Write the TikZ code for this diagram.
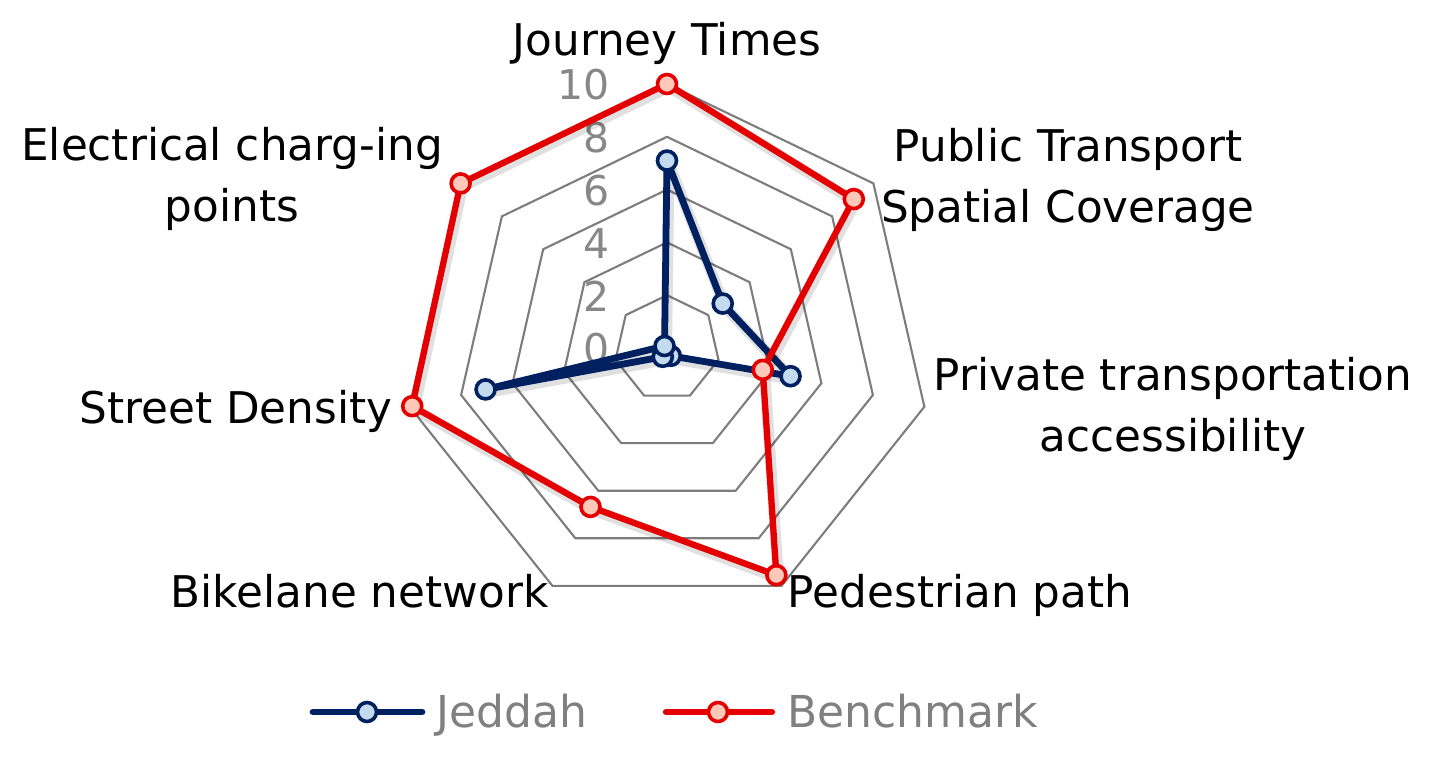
\documentclass[tikz,border=0pt]{standalone}
\usepackage{fontspec}
\setmainfont{DejaVu Sans}
\definecolor{navy}{RGB}{0,32,96}
\definecolor{navyfill}{RGB}{196,218,238}
\definecolor{bred}{RGB}{228,0,0}
\definecolor{redfill}{RGB}{255,200,185}
\definecolor{gridgray}{RGB}{125,125,125}
\definecolor{ticgray}{RGB}{135,135,135}
\definecolor{leggray}{RGB}{128,128,128}
\tikzset{
  gridring/.style={draw=gridgray, line width=2.1pt, line join=miter},
  jedline/.style={draw=navy, line width=6.8pt, line join=round, line cap=round},
  benline/.style={draw=bred, line width=6.3pt, line join=round, line cap=round},
  shadowline/.style={draw=black, opacity=0.12, line width=11pt, line join=round},
  jedmark/.style={circle, draw=navy, fill=navyfill, line width=3.6pt, minimum size=19pt, inner sep=0pt},
  benmark/.style={circle, draw=bred, fill=redfill, line width=3.6pt, minimum size=19pt, inner sep=0pt},
  axlabel/.style={font=\fontsize{43.7}{61.5}\selectfont, text=black, inner sep=0pt, align=center},
  ticklabel/.style={font=\fontsize{41}{48}\selectfont, text=ticgray, inner sep=0pt, anchor=east},
  legtext/.style={font=\fontsize{44}{50}\selectfont, text=leggray, inner sep=0pt, anchor=base west},
}
\begin{document}
\begin{tikzpicture}[x=1pt,y=1pt]
\useasboundingbox (0,0) rectangle (1433,-761);
% grid rings
\begin{scope}[shift={(667,-348)}]
  \foreach \v in {2,4,6,8,10} {
    \draw[gridring] (90:{\v*26.4}) \foreach \k in {1,...,6} { -- ({90-\k*360/7}:{\v*26.4}) } -- cycle;
  }
  \foreach \val [count=\i from 0] in {7.1,2.7,4.8,0.33,0.37,7.05,0.12}
    \coordinate (j\i) at ({90-\i*360/7}:{\val*26.4});
  \foreach \val [count=\i from 0] in {10,9.05,3.72,9.55,6.68,9.9,10}
    \coordinate (b\i) at ({90-\i*360/7}:{\val*26.4});
\end{scope}
% tick labels
\foreach \v in {0,2,4,6,8,10}
  \node[ticklabel] (t\v) at (610,{-348+\v*26.4-1}) {\v};
% shadows
\draw[shadowline] ([xshift=2pt,yshift=-3pt]j0) -- ([xshift=2pt,yshift=-3pt]j1) -- ([xshift=2pt,yshift=-3pt]j2) -- ([xshift=2pt,yshift=-3pt]j3) -- ([xshift=2pt,yshift=-3pt]j4) -- ([xshift=2pt,yshift=-3pt]j5) -- ([xshift=2pt,yshift=-3pt]j6) -- cycle;
% Jeddah series
\draw[jedline] (j0) -- (j1) -- (j2) -- (j3) -- (j4) -- (j5) -- (j6) -- cycle;
\foreach \i in {0,...,6} \node[jedmark] (jm\i) at (j\i) {};
\draw[shadowline] ([xshift=2pt,yshift=-3pt]b0) -- ([xshift=2pt,yshift=-3pt]b1) -- ([xshift=2pt,yshift=-3pt]b2) -- ([xshift=2pt,yshift=-3pt]b3) -- ([xshift=2pt,yshift=-3pt]b4) -- ([xshift=2pt,yshift=-3pt]b5) -- ([xshift=2pt,yshift=-3pt]b6) -- cycle;
% Benchmark series
\draw[benline] (b0) -- (b1) -- (b2) -- (b3) -- (b4) -- (b5) -- (b6) -- cycle;
\foreach \i in {0,...,6} \node[benmark] (bm\i) at (b\i) {};
% axis labels
\node[axlabel, anchor=base] (ljt) at (667,-55) {Journey Times};
\node[axlabel, anchor=north] (lpt) at (1068,-127.8) {Public Transport\\Spatial Coverage};
\node[axlabel, anchor=north] (lpr) at (1173,-356.8) {Private transportation\\accessibility};
\node[axlabel, anchor=base] (lped) at (960,-607) {Pedestrian path};
\node[axlabel, anchor=base] (lbike) at (359.5,-607) {Bikelane network};
\node[axlabel, anchor=base] (lsd) at (236,-423) {Street Density};
\node[axlabel, anchor=north] (lel) at (232,-126.8) {Electrical charg-ing\\points};
% legend
\coordinate (jla) at (313,-712); \coordinate (jlb) at (422,-712);
\draw[jedline] (jla) -- (jlb);
\node[jedmark] (jlm) at (367,-712) {};
\node[legtext] (jlt) at (436,-727) {Jeddah};
\coordinate (bla) at (666,-712); \coordinate (blb) at (772,-712);
\draw[benline] (bla) -- (blb);
\node[benmark] (blm) at (718,-712) {};
\node[legtext] (blt) at (787,-727) {Benchmark};
\end{tikzpicture}
\end{document}
